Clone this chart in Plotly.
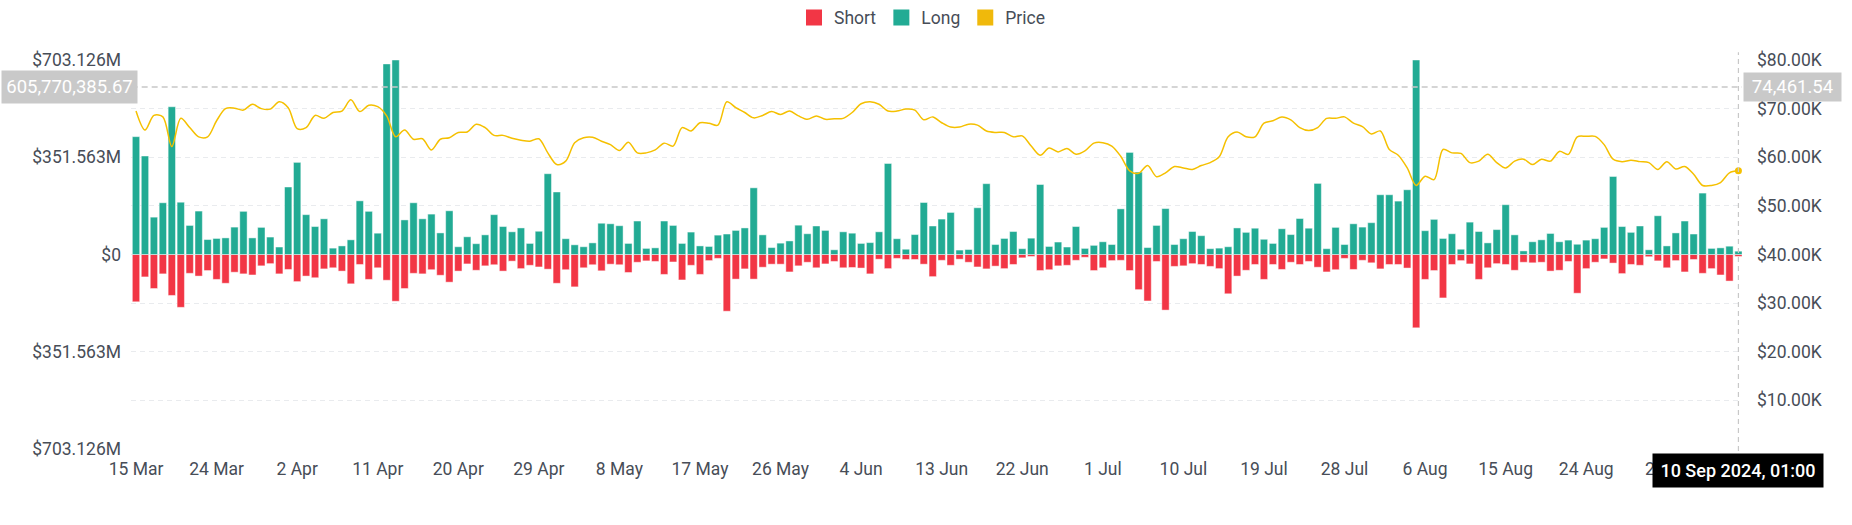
import pandas as pd
import plotly.graph_objects as go

# ---------------- data ----------------
start_date = "2024-03-15"
end_date = "2024-09-10"
dates = pd.date_range(start_date, end_date, freq="D")

# Long liquidations (million USD)
long_m = [
    426, 356, 135, 187, 534, 189, 105, 157, 54, 58, 60, 99, 156, 60, 98, 63, 27, 244, 333, 144,
    101, 129, 23, 31, 53, 194, 156, 77, 689, 703.126,
    125, 187, 129, 146, 78, 158, 28, 64, 39, 71, 144, 101, 82, 96, 40, 84, 292, 226, 57, 35,
    28, 42, 113, 111, 104, 40, 121, 22, 24, 121,
    105, 40, 81, 31, 29, 70, 74, 87, 96, 241, 71, 25, 41, 49, 106, 75, 103, 87, 17, 82,
    77, 40, 43, 82, 329, 57, 19, 72, 188, 103,
    128, 152, 16, 18, 169, 256, 36, 58, 83, 21, 59, 253, 29, 45, 27, 101, 22, 33, 46, 36,
    165, 369, 298, 25, 105, 166, 36, 57, 83, 68,
    21, 23, 28, 96, 80, 95, 55, 40, 93, 72, 130, 95, 257, 21, 98, 36, 111, 99, 115, 216,
    216, 193, 234, 703.126, 86, 127, 58, 75, 19, 117,
    83, 42, 90, 180, 71, 13, 46, 53, 76, 46, 52, 37, 52, 57, 98, 282, 101, 80, 103, 17,
    140, 31, 78, 121, 74, 222, 22, 24, 30, 12,
]

# Short liquidations (million USD)
short_m = [
    171, 81, 123, 70, 148, 191, 68, 78, 58, 90, 104, 64, 70, 74, 41, 33, 70, 54, 98, 78,
    84, 52, 48, 60, 106, 36, 90, 48, 93, 169,
    123, 68, 70, 55, 75, 100, 60, 34, 57, 41, 37, 60, 24, 51, 39, 45, 53, 104, 55, 117,
    48, 37, 59, 35, 37, 65, 28, 23, 25, 72,
    27, 92, 39, 72, 22, 14, 205, 89, 52, 89, 46, 35, 35, 63, 41, 28, 48, 34, 25, 48,
    47, 49, 70, 17, 51, 14, 18, 18, 35, 80,
    21, 39, 17, 28, 45, 52, 42, 51, 36, 12, 7, 58, 55, 41, 39, 21, 10, 58, 48, 22,
    21, 58, 127, 168, 25, 201, 43, 41, 33, 36,
    43, 51, 142, 78, 57, 36, 90, 36, 54, 28, 36, 25, 46, 63, 55, 14, 54, 21, 30, 52,
    36, 36, 49, 265, 90, 58, 157, 36, 22, 34,
    90, 48, 33, 36, 57, 28, 30, 28, 60, 57, 25, 140, 51, 28, 16, 31, 69, 36, 39, 8,
    23, 48, 22, 63, 18, 68, 51, 74, 96, 7,
]

# BTC price (thousand USD)
price_k = [
    69.5, 65.6, 68.6, 68.3, 62.2, 68.0, 66.1, 64.2, 64.2, 67.5, 70.0, 70.1, 69.7, 70.9, 70.0,
    69.9, 71.4, 70.2, 65.9, 66.1, 68.6, 68.0, 69.2, 69.5, 71.8, 69.4, 70.7, 70.4, 68.5, 64.2,
    65.6, 63.7, 63.8, 61.5, 63.7, 64.0, 65.1, 65.2, 66.8, 66.1, 64.5, 64.5, 63.9, 63.5, 63.3,
    63.8, 60.9, 58.5, 59.2, 63.0, 64.0, 64.1, 63.3, 62.6, 61.4, 63.1, 60.9, 60.9, 61.5, 62.9,
    62.3, 66.1, 65.4, 67.1, 67.0, 66.6, 71.4, 70.2, 69.2, 68.1, 68.6, 69.4, 68.8, 69.5, 68.5,
    67.8, 68.5, 67.8, 67.9, 68.0, 69.2, 71.0, 71.4, 70.9, 69.5, 69.5, 69.9, 69.7, 67.7, 68.3,
    67.1, 66.2, 66.2, 66.8, 66.6, 65.4, 65.1, 65.1, 64.2, 64.4, 62.3, 60.4, 61.9, 61.1, 61.8,
    60.6, 61.3, 62.9, 63.0, 62.3, 60.2, 57.2, 56.7, 58.3, 56.0, 56.8, 58.1, 57.8, 57.5, 58.3,
    58.9, 60.1, 64.2, 65.2, 64.2, 64.2, 67.0, 67.5, 68.3, 67.7, 66.1, 65.5, 66.1, 68.0, 68.0,
    68.3, 67.0, 66.3, 64.8, 65.4, 61.6, 60.4, 57.8, 54.2, 56.1, 55.4, 61.6, 60.9, 60.8, 58.9,
    59.2, 60.6, 58.9, 57.8, 59.2, 59.6, 58.5, 59.6, 59.2, 61.2, 60.6, 64.2, 64.3, 64.3, 62.6,
    59.6, 59.1, 59.4, 59.1, 58.9, 57.5, 59.1, 57.6, 58.1, 56.5, 54.2, 54.2, 54.8, 56.8, 57.2,
]

axis_max_m = 703.126
left_tick_labels = ["$703.126M", "", "$351.563M", "", "$0", "", "$351.563M", "", "$703.126M"]
right_tick_vals_k = [10, 20, 30, 40, 50, 60, 70, 80]
x_tick_step_days = 9

cross_left_value = 605770385.67
cross_right_value = 74461.54
cross_left_label = "605,770,385.67"
cross_right_label = "74,461.54"
tooltip_label = "10 Sep 2024, 01:00"

# ---------------- styling ----------------
FONT = "Roboto"
FS = 17.5
TXT = "#474D57"
LONG_C = "#22AB94"
SHORT_C = "#F23645"
PRICE_C = "#F5C000"
PRICE_LEG_C = "#F0B90B"
GRID_C = "#E9EBEE"

W, H = 1852, 525
ML, MR, MT, MB = 131, 110, 60, 76
PW = W - ML - MR
PH = H - MT - MB

day = pd.Timedelta(days=1)
x_range = [dates[0] - 0.56 * day, dates[-1] + 0.4 * day]

long_v = [v * 1e6 for v in long_m]
short_v = [-v * 1e6 for v in short_m]
price_v = [v * 1000 for v in price_k]

fig = go.Figure()
bar_w = 0.82 * 86400000
bar_line = dict(color="rgba(255,255,255,0.45)", width=1)
fig.add_trace(go.Bar(x=dates, y=short_v, name="Short", showlegend=False,
                     marker=dict(color=SHORT_C, line=bar_line), width=bar_w))
fig.add_trace(go.Bar(x=dates, y=long_v, name="Long", showlegend=False,
                     marker=dict(color=LONG_C, line=bar_line), width=bar_w))
fig.add_trace(go.Scatter(x=dates, y=price_v, mode="lines", name="Price", showlegend=False,
                         line=dict(color=PRICE_C, width=1.5, shape="spline", smoothing=0.9),
                         yaxis="y2"))
fig.add_trace(go.Scatter(x=[dates[-1]], y=[price_v[-1]], mode="markers", showlegend=False,
                         marker=dict(color=PRICE_C, size=7), yaxis="y2"))

# legend entries (square swatches)
for nm, col in [("Short", SHORT_C), ("Long", LONG_C), ("Price", PRICE_LEG_C)]:
    fig.add_trace(go.Scatter(x=[None], y=[None], mode="markers", name=nm,
                             marker=dict(symbol="square", size=16, color=col)))

step = axis_max_m / 4 * 1e6
left_vals = [k * step for k in range(-4, 5)]

fig.update_layout(
    width=W, height=H,
    margin=dict(l=ML, r=MR, t=MT, b=MB, pad=0, autoexpand=False),
    paper_bgcolor="white", plot_bgcolor="white",
    barmode="relative",
    font=dict(family=FONT, size=FS, color=TXT),
    showlegend=True,
    legend=dict(orientation="h", x=(922 - ML) / PW, xanchor="center",
                y=1 + (MT - 17.5) / PH, yanchor="middle",
                font=dict(family=FONT, size=FS, color=TXT), itemsizing="trace",
                traceorder="normal", itemclick=False, bgcolor="rgba(0,0,0,0)"),
    xaxis=dict(type="date", range=x_range, showgrid=False, zeroline=False, showline=False,
               ticks="", tickvals=list(dates[::x_tick_step_days]), tickformat="%-d %b",
               tickfont=dict(family=FONT, size=FS, color=TXT), ticklabelstandoff=7),
    yaxis=dict(range=[-axis_max_m * 1e6, axis_max_m * 1e6], tickvals=left_vals,
               ticktext=left_tick_labels, showgrid=True, gridcolor=GRID_C, griddash="5px,4px",
               gridwidth=1, zeroline=False, showline=False, ticks="",
               tickfont=dict(family=FONT, size=FS, color=TXT), ticklabelstandoff=9),
    yaxis2=dict(range=[0, 80000], overlaying="y", side="right", showgrid=False, zeroline=False,
                showline=False, ticks="", tickvals=[v * 1000 for v in right_tick_vals_k],
                ticktext=[f"${v:.2f}K" for v in right_tick_vals_k],
                tickfont=dict(family=FONT, size=FS, color=TXT), ticklabelstandoff=14),
    hovermode=False,
)

# crosshair lines
fig.add_shape(type="line", xref="paper", x0=-0.012, x1=1.0, yref="y", y0=cross_left_value,
              y1=cross_left_value, line=dict(color="#C8C8C8", width=1.5, dash="6px,4px"), layer="above")
fig.add_shape(type="line", xref="x", x0=dates[-1], x1=dates[-1], yref="paper", y0=-0.005, y1=1.02,
              line=dict(color="#C8C8C8", width=1.2, dash="5px,4px"), layer="above")

# crosshair value labels
fig.add_annotation(xref="paper", yref="y", x=(69.5 - ML) / PW, y=cross_left_value,
                   text=cross_left_label, showarrow=False, xanchor="center", yanchor="middle",
                   bgcolor="#C9C9C9", width=133, height=30, borderpad=1,
                   font=dict(family=FONT, size=18.5, color="white"))
fig.add_annotation(xref="paper", yref="y2", x=(1793 - ML) / PW, y=cross_right_value,
                   text=cross_right_label, showarrow=False, xanchor="center", yanchor="middle",
                   bgcolor="#C9C9C9", width=95, height=26, borderpad=1,
                   font=dict(family=FONT, size=18.5, color="white"))
fig.add_annotation(xref="x", yref="paper", x=dates[-1], y=(MT + PH - 470.5) / PH,
                   text=tooltip_label, showarrow=False, xanchor="center", yanchor="middle",
                   bgcolor="black", width=166, height=29, borderpad=2,
                   font=dict(family=FONT, size=18, color="white", weight=500))

fig.write_html("out.html", config={"displayModeBar": False},
               post_script="document.body.style.margin='0';")
